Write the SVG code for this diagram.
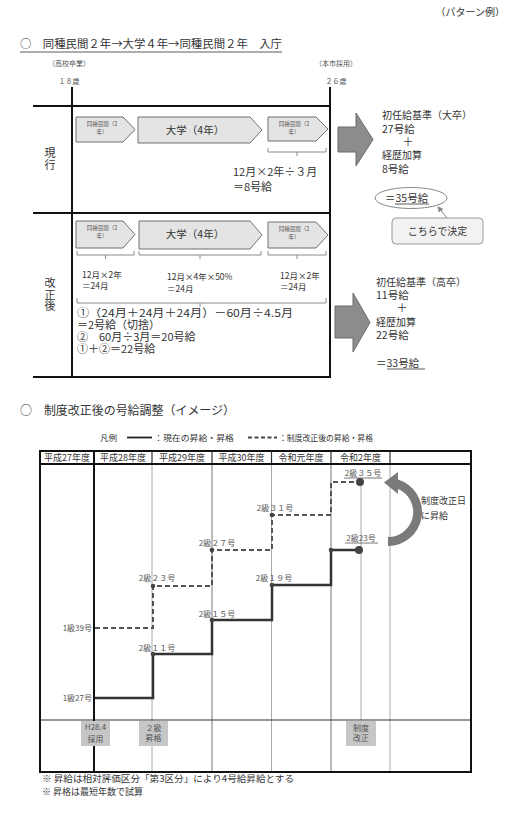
<svg xmlns="http://www.w3.org/2000/svg" width="510" height="816" viewBox="0 0 510 816">
<defs>
<style>
text { font-family: "Noto Sans CJK JP", "Noto Sans", sans-serif; fill: #333; }
.f5 { font-size: 5.5px; fill: #555; }
.f7 { font-size: 7px; fill: #555; }
.f8 { font-size: 8px; fill: #555; }
.f85 { font-size: 8.5px; }
.f9 { font-size: 9px; }
.f10 { font-size: 10px; }
.f105 { font-size: 10.5px; }
.f11 { font-size: 11px; }
.f12 { font-size: 12px; }
.mid { text-anchor: middle; }
.end { text-anchor: end; }
.vert { font-size: 11px; writing-mode: vertical-rl; letter-spacing: 1px; }
.pent { fill: #e4e4e4; stroke: #707070; stroke-width: 1; }
.bigarrow { fill: #8c8c8c; stroke: #6c6c6c; stroke-width: 1; }
.brk { fill: none; stroke: #8a8a8a; stroke-width: 1; }
.frame { fill: none; stroke: #111; stroke-width: 2; }
.ul { stroke: #333; stroke-width: 0.8; }
.solid { fill: none; stroke: #333; stroke-width: 2.5; }
.dash { fill: none; stroke: #555; stroke-width: 2; stroke-dasharray: 5 3; }
.gline { stroke: #aaa; stroke-width: 1; }
.dline { stroke: #777; stroke-width: 1; }
.gbox { fill: #c6c6c6; }
.lbl { font-size: 8px; fill: #555; }
.dot { fill: #444; }
</style>
<marker id="ah" markerWidth="6" markerHeight="6" refX="5" refY="3" orient="auto" markerUnits="userSpaceOnUse">
<path d="M0,0 L6,3 L0,6 Z" fill="#888"/>
</marker>
</defs>
<rect width="510" height="816" fill="#ffffff"/>

<g id="heading1">
<text x="505" y="16" class="f10 end" fill="#444">（パターン例）</text>
<text x="20" y="48" class="f11" textLength="262" lengthAdjust="spacingAndGlyphs">○　同種民間２年→大学４年→同種民間２年　入庁</text>
<line x1="20" y1="52" x2="282" y2="52" class="ul"/>
<text x="69" y="66" class="f7 mid">（高校卒業）</text>
<text x="69" y="84" class="f7 mid">１８歳</text>
<text x="336" y="66" class="f7 mid">（本市採用）</text>
<text x="336" y="84" class="f7 mid">２６歳</text>
</g>

<g id="frame1">
<line x1="72" y1="87" x2="72" y2="378" class="frame"/>
<line x1="330" y1="87" x2="330" y2="378" class="frame"/>
<line x1="33" y1="106" x2="331" y2="106" class="frame"/>
<line x1="33" y1="213" x2="331" y2="213" class="frame"/>
<line x1="33" y1="377" x2="331" y2="377" class="frame"/>
<text x="50" y="147" class="vert">現行</text>
<text x="50" y="277.5" class="vert" style="letter-spacing:0.5px">改正後</text>
</g>

<g id="current-private1">
<path d="M76,117 H123 L135,129.5 L123,142 H76 Z" class="pent"/>
<text x="102" y="126" class="f5 mid">同種民間（2</text>
<text x="102" y="134" class="f5 mid">年）</text>
</g>
<g id="current-univ">
<path d="M138,117 H250 L262,130 L250,143 H138 Z" class="pent"/>
<text x="195" y="134" class="f105 mid">大学（4年）</text>
</g>
<g id="current-private2">
<path d="M268,117 H316 L328,129 L316,141 H268 Z" class="pent"/>
<text x="294" y="126" class="f5 mid">同種民間（2</text>
<text x="294" y="134" class="f5 mid">年）</text>
<path d="M268,148 V152 H326 V148 M297,152 V156" class="brk"/>
</g>
<g id="current-calc">
<text x="233" y="175.5" class="f11">12月×2年÷３月</text>
<text x="233" y="190.5" class="f11">＝8号給</text>
</g>
<g id="current-arrow">
<polygon points="338,127 356,127 356,113 373,139.5 356,166 356,152 338,152" class="bigarrow"/>
</g>
<g id="current-result">
<text x="382" y="119" class="f10">初任給基準（大卒）</text>
<text x="382" y="133" class="f105">27号給</text>
<text x="408" y="146" class="f11 mid">＋</text>
<text x="382" y="159" class="f10">経歴加算</text>
<text x="382" y="173" class="f105">8号給</text>
<text x="385" y="202" class="f105">＝<tspan>35号給</tspan></text>
<line x1="395" y1="204" x2="429" y2="204" class="ul"/>
<ellipse cx="411" cy="198" rx="36" ry="10.5" fill="none" stroke="#888" stroke-width="1"/>
</g>
<g id="callout">
<rect x="392" y="218" width="91" height="26" rx="4" fill="#f2f2f2" stroke="#999" stroke-width="1"/>
<text x="437.5" y="235" class="f10 mid">こちらで決定</text>
<line x1="447" y1="218" x2="438" y2="207" stroke="#888" stroke-width="1" marker-end="url(#ah)"/>
</g>

<g id="revised-private1">
<path d="M76,221 H123 L135,234.5 L123,248 H76 Z" class="pent"/>
<text x="102" y="230" class="f5 mid">同種民間（2</text>
<text x="102" y="238" class="f5 mid">年）</text>
<path d="M77,251 V255 H134 V251 M105.5,255 V259" class="brk"/>
<text x="82" y="278" class="f85">12月×2年</text>
<text x="82" y="289" class="f85">＝24月</text>
</g>
<g id="revised-univ">
<path d="M139,221 H250 L262,235 L250,249 H139 Z" class="pent"/>
<text x="195" y="238" class="f105 mid">大学（4年）</text>
<path d="M139,251 V255 H261 V251 M200,255 V259" class="brk"/>
<text x="167" y="280" class="f85">12月×4年×50%</text>
<text x="167" y="292" class="f85">＝24月</text>
</g>
<g id="revised-private2">
<path d="M268,222 H316 L328,235 L316,248 H268 Z" class="pent"/>
<text x="294" y="231" class="f5 mid">同種民間（2</text>
<text x="294" y="239" class="f5 mid">年）</text>
<path d="M268,251 V255 H326 V251 M297,255 V259" class="brk"/>
<text x="280" y="279" class="f85">12月×2年</text>
<text x="280" y="290" class="f85">＝24月</text>
</g>
<g id="revised-calc">
<path d="M77,298 V303 H326 V298 M200,303 V307" class="brk"/>
<text x="77" y="317" class="f11" textLength="216" lengthAdjust="spacingAndGlyphs">①（24月＋24月＋24月）－60月÷4.5月</text>
<text x="77" y="329" class="f11">＝2号給（切捨）</text>
<text x="77" y="341" class="f11">②　60月÷3月＝20号給</text>
<text x="77" y="353" class="f11">①＋②＝22号給</text>
</g>
<g id="revised-arrow">
<polygon points="335,306 353,306 353,293 370,322.5 353,352 353,338 335,338" class="bigarrow"/>
</g>
<g id="revised-result">
<text x="376" y="286" class="f10">初任給基準（高卒）</text>
<text x="376" y="299" class="f105">11号給</text>
<text x="402" y="312" class="f11 mid">＋</text>
<text x="376" y="326" class="f10">経歴加算</text>
<text x="376" y="339" class="f105">22号給</text>
<text x="376" y="367" class="f105">＝33号給</text>
<line x1="387" y1="369" x2="425" y2="369" class="ul"/>
</g>

<g id="heading2">
<text x="20" y="415" class="f12" textLength="215" lengthAdjust="spacingAndGlyphs">○　制度改正後の号給調整（イメージ）</text>
</g>
<g id="legend">
<text x="100" y="441" class="f85">凡例</text>
<line x1="127" y1="437.5" x2="152" y2="437.5" stroke="#222" stroke-width="1.8"/>
<text x="154" y="441" class="f85" textLength="80" lengthAdjust="spacingAndGlyphs">：現在の昇給・昇格</text>
<line x1="248" y1="437.5" x2="277" y2="437.5" stroke="#444" stroke-width="1.8" stroke-dasharray="4 2.5"/>
<text x="279" y="441" class="f85" textLength="94" lengthAdjust="spacingAndGlyphs">：制度改正後の昇給・昇格</text>
</g>

<g id="table">
<line x1="152" y1="464" x2="152" y2="772" class="gline"/>
<line x1="212" y1="464" x2="212" y2="772" class="dline"/>
<line x1="271.5" y1="464" x2="271.5" y2="772" class="gline"/>
<line x1="331" y1="464" x2="331" y2="772" class="dline"/>
<line x1="390" y1="464" x2="390" y2="772" class="gline"/>
<line x1="361" y1="482" x2="361" y2="720" class="gline"/>
<line x1="40" y1="720" x2="471" y2="720" stroke="#333" stroke-width="1.2"/>
<rect x="40" y="451" width="431" height="13" class="frame"/>
<line x1="152" y1="451" x2="152" y2="464" stroke="#333" stroke-width="1.2"/>
<line x1="212" y1="451" x2="212" y2="464" stroke="#333" stroke-width="1.2"/>
<line x1="271.5" y1="451" x2="271.5" y2="464" stroke="#333" stroke-width="1.2"/>
<line x1="331" y1="451" x2="331" y2="464" stroke="#333" stroke-width="1.2"/>
<line x1="390" y1="451" x2="390" y2="464" stroke="#333" stroke-width="1.2"/>
<text x="67" y="461" class="f9 mid">平成27年度</text>
<text x="123" y="461" class="f9 mid">平成28年度</text>
<text x="182" y="461" class="f9 mid">平成29年度</text>
<text x="241.5" y="461" class="f9 mid">平成30年度</text>
<text x="301" y="461" class="f9 mid">令和元年度</text>
<text x="360.5" y="461" class="f9 mid">令和2年度</text>
<rect x="40" y="464" width="431" height="308" class="frame"/>
<line x1="94" y1="451" x2="94" y2="772" stroke="#111" stroke-width="2"/>
</g>

<g id="connectors">
<path d="M95,628 H153 V586 H212 V550 H272 V515 H331 V482 H360" class="dash"/>
<path d="M95,698 H153 V654 H212 V620 H272 V585 H331 V550 H359" class="solid"/>
<path d="M388,546 A34,34 0 0 0 398,479.5 L398,472 L384,482.5 L398,494 L398,489 A25,25 0 0 1 388,537 Z" fill="#7a7a7a"/>
</g>

<g id="points-current">
<circle cx="153" cy="654" r="2.3" class="dot"/>
<circle cx="212" cy="620" r="2.3" class="dot"/>
<circle cx="272" cy="585" r="2.3" class="dot"/>
<circle cx="331" cy="550" r="2.3" class="dot"/>
<circle cx="359" cy="550" r="4" class="dot"/>
<text x="92" y="701" class="lbl end">1級27号</text>
<text x="157" y="651" class="lbl mid">2級１１号</text>
<text x="217" y="617" class="lbl mid">2級１５号</text>
<text x="274" y="581" class="lbl mid">2級１９号</text>
<text x="361" y="541" class="lbl mid">2級23号</text>
<line x1="345" y1="543" x2="378" y2="543" stroke="#555" stroke-width="0.8"/>
</g>
<g id="points-revised">
<circle cx="153" cy="586" r="2.3" class="dot"/>
<circle cx="212" cy="550" r="2.3" class="dot"/>
<circle cx="272" cy="515" r="2.3" class="dot"/>
<circle cx="360" cy="482" r="4" class="dot"/>
<text x="92" y="631" class="lbl end">1級39号</text>
<text x="157" y="581" class="lbl mid">2級２３号</text>
<text x="217" y="546" class="lbl mid">2級２７号</text>
<text x="275" y="511" class="lbl mid">2級３１号</text>
<text x="363" y="476" class="lbl mid">2級３５号</text>
<line x1="344" y1="478" x2="382" y2="478" stroke="#555" stroke-width="0.8"/>
</g>
<g id="revision-note">
<text x="421" y="504" class="f9" fill="#555">制度改正日</text>
<text x="421" y="519" class="f9" fill="#555">に昇給</text>
</g>

<g id="event-hire">
<rect x="81" y="721" width="29" height="25" class="gbox"/>
<text x="95.5" y="730" class="f8 mid" fill="#444">H28.4</text>
<text x="95.5" y="742" class="f8 mid" fill="#444">採用</text>
</g>
<g id="event-promote">
<rect x="139" y="721" width="29" height="25" class="gbox"/>
<text x="153.5" y="731" class="f8 mid" fill="#444">２級</text>
<text x="153.5" y="741" class="f8 mid" fill="#444">昇格</text>
</g>
<g id="event-revision">
<rect x="346" y="721" width="30" height="25" class="gbox"/>
<text x="361" y="731" class="f8 mid" fill="#444">制度</text>
<text x="361" y="741" class="f8 mid" fill="#444">改正</text>
</g>

<g id="notes">
<text x="42" y="782" class="f9" textLength="252" lengthAdjust="spacingAndGlyphs">※ 昇給は相対評価区分「第3区分」により4号給昇給とする</text>
<text x="42" y="795" class="f9" fill="#444">※ 昇格は最短年数で試算</text>
</g>
</svg>
